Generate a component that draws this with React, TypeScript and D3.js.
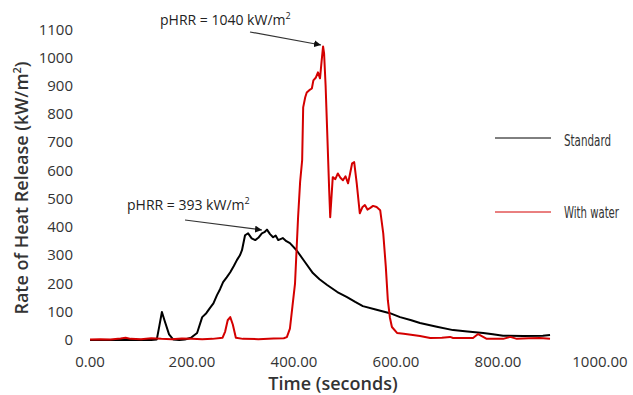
import React from "react";
import * as d3 from "d3";

const xTicks = [0, 200, 400, 600, 800, 1000];
const yTicks = [0, 100, 200, 300, 400, 500, 600, 700, 800, 900, 1000, 1100];

// Standard: [time (s), HRR (kW/m2)]
const standardTime = [0, 60, 120, 131, 136, 141, 146, 155, 163, 175, 186, 198, 210, 220, 228, 235, 242, 249, 255, 261, 268, 275, 282, 288, 294, 298, 304, 310, 317, 324, 330, 337, 342, 347, 353, 359, 364, 369, 378, 385, 392, 405, 420, 437, 450, 465, 485, 504, 520, 535, 560, 588, 608, 630, 647, 680, 712, 740, 771, 790, 810, 850, 888, 902];
const standardHrr = [0, 0, 0, 2, 50, 99, 70, 20, 2, 0, 2, 8, 25, 81, 95, 113, 130, 159, 180, 205, 222, 240, 262, 283, 300, 318, 371, 378, 360, 354, 362, 378, 382, 391, 375, 364, 370, 354, 361, 350, 343, 318, 280, 237, 215, 195, 170, 152, 135, 120, 108, 95, 81, 70, 60, 47, 35, 30, 25, 20, 15, 14, 15, 18];

// With water: [time (s), HRR (kW/m2)]
const waterTime = [0, 20, 40, 60, 70, 80, 100, 120, 140, 160, 180, 200, 220, 240, 260, 265, 270, 275, 280, 286, 300, 330, 360, 380, 386, 392, 397, 402, 408, 412, 416, 418, 422, 425, 430, 435, 438, 443, 447, 451, 454, 457, 459, 462, 465, 469, 471, 476, 481, 486, 491, 496, 501, 506, 510, 514, 518, 523, 529, 534, 539, 544, 549, 555, 562, 569, 575, 580, 584, 588, 592, 602, 615, 633, 647, 667, 690, 706, 712, 735, 751, 761, 778, 810, 824, 837, 860, 882, 902];
const waterHrr = [2, 3, 2, 5, 8, 4, 3, 6, 4, 3, 5, 4, 3, 4, 8, 30, 70, 81, 55, 8, 4, 3, 5, 6, 10, 40, 120, 200, 435, 560, 637, 824, 860, 877, 885, 891, 920, 930, 948, 927, 985, 1040, 1015, 900, 743, 530, 435, 577, 570, 590, 575, 566, 580, 555, 590, 626, 630, 555, 449, 470, 478, 462, 467, 475, 471, 460, 378, 260, 141, 80, 46, 25, 22, 18, 14, 7, 8, 11, 7, 7, 7, 21, 4, 4, 11, 4, 6, 7, 4];

const W = 633;
const H = 395;
const FONT = "'Open Sans', 'Liberation Sans', sans-serif";
const LEGEND_FONT = "'DejaVu Sans Condensed', 'Liberation Sans Narrow', sans-serif";

export default function App() {
  const x = d3.scaleLinear().domain([0, 1000]).range([90, 600]);
  const y = d3.scaleLinear().domain([0, 1100]).range([340, 29.5]);

  const line = d3
    .line<[number, number]>()
    .x((d) => x(d[0]))
    .y((d) => y(d[1]))
    .curve(d3.curveLinear);

  const std = standardTime.map((t, i) => [t, standardHrr[i]] as [number, number]);
  const wat = waterTime.map((t, i) => [t, waterHrr[i]] as [number, number]);

  return (
    <svg
      width={W}
      height={H}
      style={{ position: "absolute", left: 0, top: 0, background: "#fff" }}
      fontFamily={FONT}
    >
      <defs>
        <marker id="arr" viewBox="0 0 10 10" refX="10" refY="5" markerWidth="7" markerHeight="7" orient="auto" markerUnits="userSpaceOnUse">
          <path d="M0,0 L10,5 L0,10 z" fill="#111" />
        </marker>
      </defs>
      <rect x={0} y={0} width={W} height={H} fill="#fff" />

      {yTicks.map((v) => (
        <text key={"y" + v} x={73} y={y(v) + 5} textAnchor="end" fontSize={15} fill="#333">
          {v}
        </text>
      ))}
      {xTicks.map((v) => (
        <text key={"x" + v} x={x(v)} y={367} textAnchor="middle" fontSize={15} fill="#333">
          {v.toFixed(2)}
        </text>
      ))}

      <text x={333} y={390} textAnchor="middle" fontSize={18} fontWeight={600} fill="#333">
        Time (seconds)
      </text>
      <text
        transform={`translate(28,${188}) rotate(-90)`}
        textAnchor="middle"
        fontSize={18}
        fontWeight={600}
        fill="#333"
      >
        Rate of Heat Release (kW/m<tspan baselineShift="super" fontSize={11}>2</tspan>)
      </text>

      <path d={line(std) ?? ""} fill="none" stroke="#000" strokeWidth={2} strokeLinejoin="round" />
      <path d={line(wat) ?? ""} fill="none" stroke="#d40000" strokeWidth={2} strokeLinejoin="round" />

      <text x={160} y={25} fontSize={14} fill="#222">
        pHRR = 1040 kW/m<tspan baselineShift="super" fontSize={9}>2</tspan>
      </text>
      <line x1={250} y1={32} x2={321} y2={45} stroke="#333" strokeWidth={1.2} markerEnd="url(#arr)" />

      <text x={127} y={210} fontSize={14} fill="#222">
        pHRR = 393 kW/m<tspan baselineShift="super" fontSize={9}>2</tspan>
      </text>
      <line x1={185} y1={220} x2={262} y2={230} stroke="#333" strokeWidth={1.2} markerEnd="url(#arr)" />

      <line x1={495} y1={138} x2={551} y2={138} stroke="#000" strokeWidth={1} />
      <text x={564} y={146} fontSize={16} fill="#333" fontFamily={LEGEND_FONT} textLength={47} lengthAdjust="spacingAndGlyphs">
        Standard
      </text>
      <line x1={495} y1={212} x2={551} y2={212} stroke="#d40000" strokeWidth={1} />
      <text x={564} y={218} fontSize={15} fill="#333" fontFamily={LEGEND_FONT} textLength={55} lengthAdjust="spacingAndGlyphs">
        With water
      </text>
    </svg>
  );
}
